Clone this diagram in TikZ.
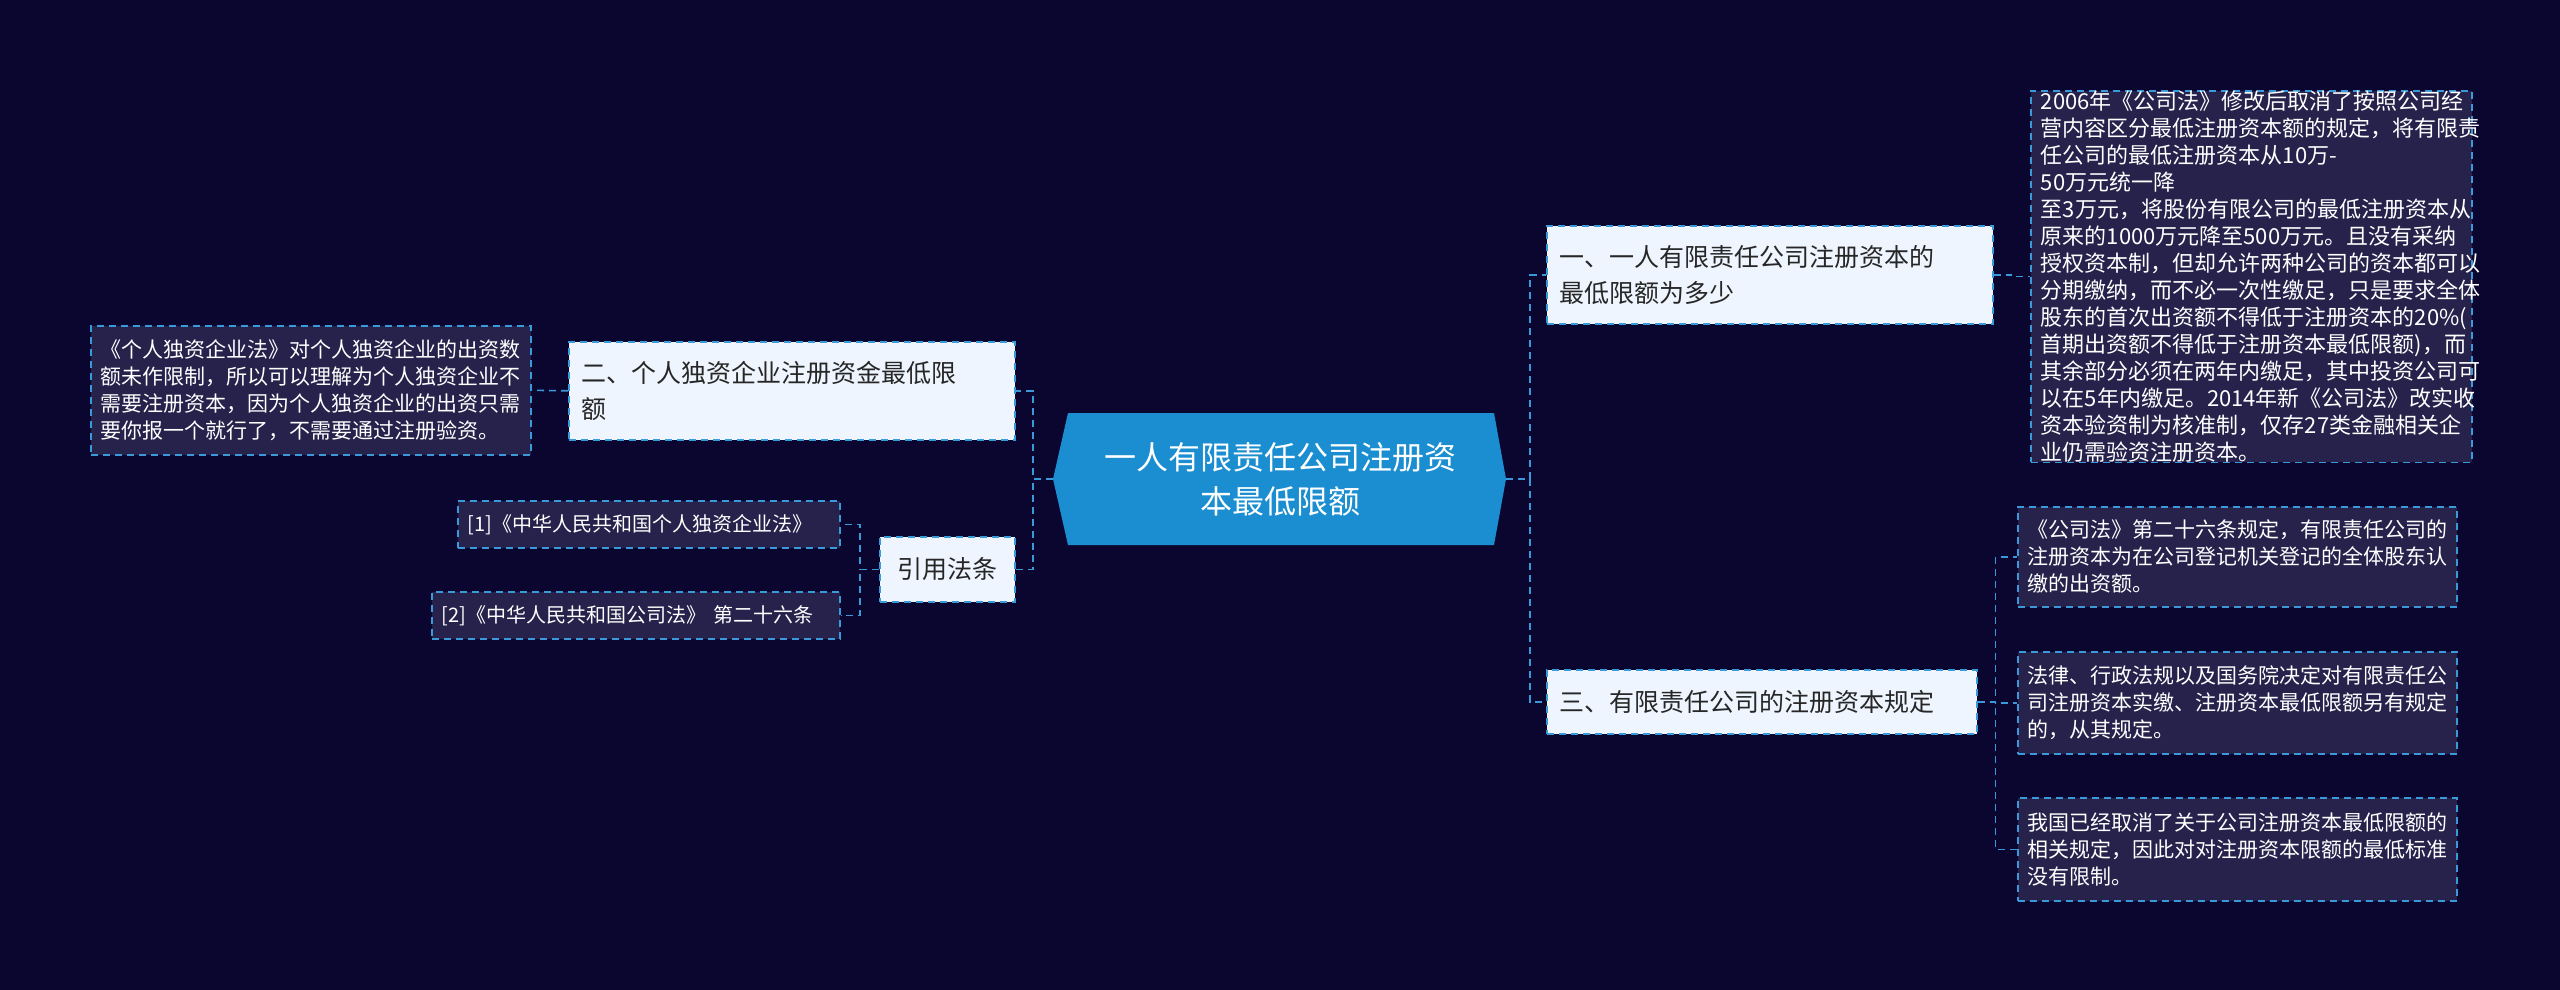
\documentclass[tikz,border=0pt]{standalone}
\usepackage{fontspec}
\setmainfont{Noto Sans CJK SC}
\definecolor{bg}{HTML}{0B0630}
\definecolor{leaf}{HTML}{26224C}
\definecolor{edge}{HTML}{3A9AD9}
\definecolor{br}{HTML}{EEF5FE}
\definecolor{ctr}{HTML}{1A8ED0}
\begin{document}
\begin{tikzpicture}[x=1pt,y=-1pt,
  leafbox/.style={draw=edge,fill=leaf,dashed,line width=1.6pt,dash pattern=on 7pt off 5pt,text=white,align=left,anchor=north west,inner xsep=10pt,inner ysep=0pt,font=\fontsize{21}{27}\selectfont},
  brbox/.style={draw=edge,fill=br,dashed,line width=1.6pt,dash pattern=on 7pt off 5pt,text=black!85,align=left,anchor=north west,inner xsep=12pt,inner ysep=0pt,font=\fontsize{25}{36}\selectfont},
  link/.style={draw=edge,line width=1.6pt,dash pattern=on 7pt off 5pt}]
\fill[bg] (0,0) rectangle (2560,990);
\useasboundingbox (0,0) rectangle (2560,990);
% central
\fill[ctr] (1068,413) -- (1494,413) -- (1506,479) -- (1494,545) -- (1068,545) -- (1053,479) -- cycle;
\node[text=white,align=center,font=\fontsize{32}{44}\selectfont] (c) at (1280,479) {一人有限责任公司注册资\\本最低限额};
\coordinate (cl) at (1053,479);
\coordinate (cr) at (1506,479);
% branches
\node[brbox,minimum width=446pt,minimum height=98pt,text width=420pt] (b1) at (1546,225) {一、一人有限责任公司注册资本的\\最低限额为多少};
\node[brbox,minimum width=430pt,minimum height=64pt,text width=404pt] (b3) at (1546,669) {三、有限责任公司的注册资本规定};
\node[brbox,minimum width=446pt,minimum height=98pt,text width=420pt] (b2) at (568,341) {二、个人独资企业注册资金最低限\\额};
\node[brbox,minimum width=135pt,minimum height=65pt,text width=110pt,align=center] (b4) at (879,536) {引用法条};
% leaves
\node[leafbox,minimum width=441pt,minimum height=370pt,text width=421pt,font=\fontsize{22}{27}\selectfont] (l1) at (2030,90) {2006年《公司法》修改后取消了按照公司经\\营内容区分最低注册资本额的规定，将有限责\\任公司的最低注册资本从10万-50万元统一降\\至3万元，将股份有限公司的最低注册资本从\\原来的1000万元降至500万元。且没有采纳\\授权资本制，但却允许两种公司的资本都可以\\分期缴纳，而不必一次性缴足，只是要求全体\\股东的首次出资额不得低于注册资本的20\%(\\首期出资额不得低于注册资本最低限额)，而\\其余部分必须在两年内缴足，其中投资公司可\\以在5年内缴足。2014年新《公司法》改实收\\资本验资制为核准制，仅存27类金融相关企\\业仍需验资注册资本。};
\node[leafbox,minimum width=439pt,minimum height=100pt,text width=419pt] (l2) at (2017,506) {《公司法》第二十六条规定，有限责任公司的\\注册资本为在公司登记机关登记的全体股东认\\缴的出资额。};
\node[leafbox,minimum width=439pt,minimum height=102pt,text width=419pt] (l3) at (2017,651) {法律、行政法规以及国务院决定对有限责任公\\司注册资本实缴、注册资本最低限额另有规定\\的，从其规定。};
\node[leafbox,minimum width=439pt,minimum height=103pt,text width=419pt] (l4) at (2017,797) {我国已经取消了关于公司注册资本最低限额的\\相关规定，因此对对注册资本限额的最低标准\\没有限制。};
\node[leafbox,minimum width=440pt,minimum height=129pt,text width=420pt] (l5) at (90,325) {《个人独资企业法》对个人独资企业的出资数\\额未作限制，所以可以理解为个人独资企业不\\需要注册资本，因为个人独资企业的出资只需\\要你报一个就行了，不需要通过注册验资。};
\node[leafbox,minimum width=382pt,minimum height=47pt,text width=362pt,font=\fontsize{20}{26}\selectfont] (r1) at (457,500) {[1]《中华人民共和国个人独资企业法》};
\node[leafbox,minimum width=408pt,minimum height=47pt,text width=388pt,font=\fontsize{20}{26}\selectfont] (r2) at (431,591) {[2]《中华人民共和国公司法》 第二十六条};
% connectors
\draw[link] (cr) -- ++(24,0) |- (b1.west);
\draw[link] (cr) -- ++(24,0) |- (b3.west);
\draw[link] (cl) -- ++(-20,0) |- (b2.east);
\draw[link] (cl) -- ++(-20,0) |- (b4.east);
\draw[link] (b1.east) -- ++(18,0) |- (l1.west);
\draw[link] (b3.east) -- ++(18,0) |- (l2.west);
\draw[link] (b3.east) -- ++(18,0) |- (l3.west);
\draw[link] (b3.east) -- ++(18,0) |- (l4.west);
\draw[link] (b2.west) -- (l5.east);
\draw[link] (b4.west) -- ++(-19,0) |- (r1.east);
\draw[link] (b4.west) -- ++(-19,0) |- (r2.east);
\end{tikzpicture}
\end{document}
